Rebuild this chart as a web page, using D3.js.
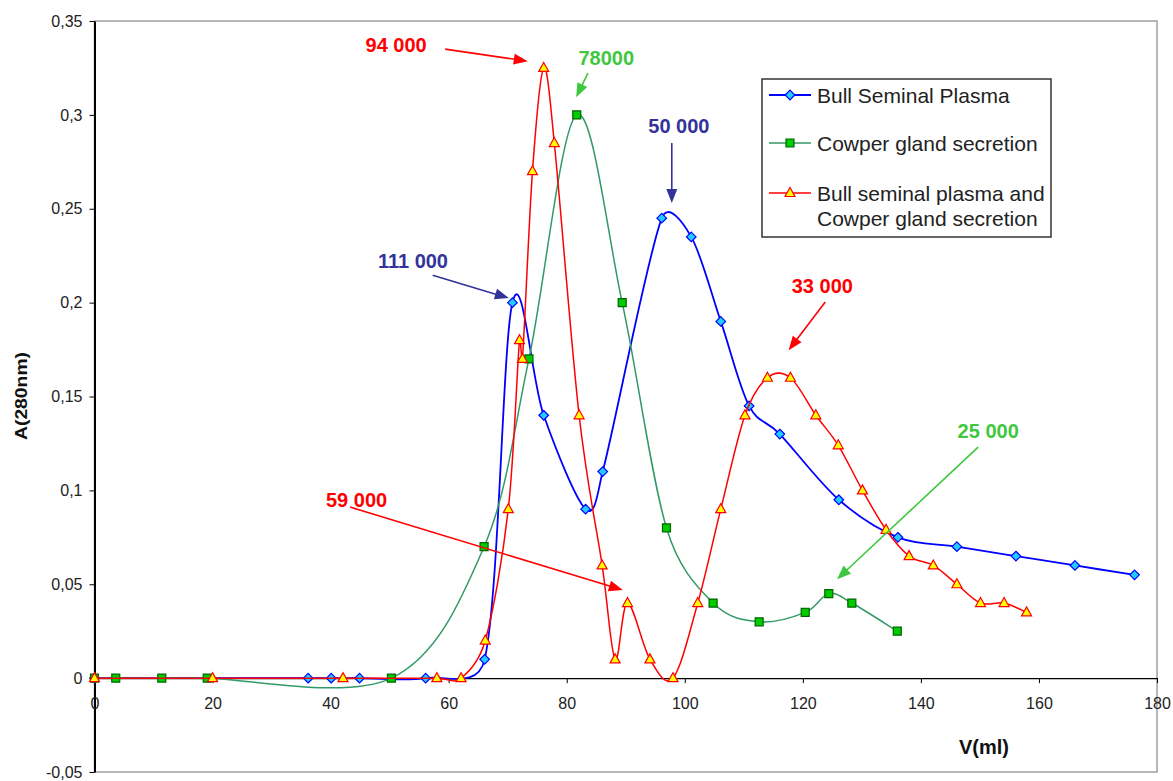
<!DOCTYPE html>
<html>
<head>
<meta charset="utf-8">
<script src="https://cdn.jsdelivr.net/npm/d3@7"></script>
<style>
  body { margin: 0; background: #fff; }
  text { font-family: "Liberation Sans", Arial, sans-serif; }
</style>
</head>
<body>
<div id="chart"></div>
<script>
// Elution profiles, A(280nm) against V(ml)
var bullX = [0, 36.2, 40.1, 44.9, 56.1, 66.1, 70.8, 76.1, 83.2, 86.1, 96.1, 101.1, 106.1, 110.9, 116.1, 126.1, 136.1, 146.1, 156.1, 166.1, 176.2];
var bullY = [0, 0, 0, 0, 0, 0.01, 0.2, 0.14, 0.09, 0.11, 0.245, 0.235, 0.19, 0.145, 0.13, 0.095, 0.075, 0.07, 0.065, 0.06, 0.055];

var cowperX = [0, 3.6, 11.4, 19.1, 50.3, 66, 73.6, 81.7, 89.4, 96.9, 104.8, 112.6, 120.4, 124.4, 128.3, 136];
var cowperY = [0, 0, 0, 0, 0, 0.07, 0.17, 0.3, 0.2, 0.08, 0.04, 0.03, 0.035, 0.045, 0.04, 0.025];

var mixX = [0, 20, 42.1, 58, 62.1, 66.2, 70.1, 72, 72.5, 74.2, 76.1, 77.9, 82.1, 86, 88.2, 90.3, 94.1, 98, 102.2, 106.1, 110.2, 114, 117.9, 122.2, 126, 130.1, 134.1, 138, 142.1, 146.1, 150.1, 154.1, 157.9];
var mixY = [0, 0, 0, 0, 0, 0.02, 0.09, 0.18, 0.17, 0.27, 0.325, 0.285, 0.14, 0.06, 0.01, 0.04, 0.01, 0, 0.04, 0.09, 0.14, 0.16, 0.16, 0.14, 0.124, 0.1, 0.079, 0.065, 0.06, 0.05, 0.04, 0.04, 0.035];

var seriesNames = ["Bull Seminal Plasma", "Cowper gland secretion", "Bull seminal plasma and\nCowper gland secretion"];

var yTicks = [-0.05, 0, 0.05, 0.1, 0.15, 0.2, 0.25, 0.3, 0.35];
var xTicks = [0, 20, 40, 60, 80, 100, 120, 140, 160, 180];

// molecular weight labels: text, text anchor, arrow start, arrow tip (data units)
var notes = [
  {t: "94 000",  c: "red",   at: [51.1, 0.3334],  from: [59.4, 0.3350],  to: [73.4, 0.3286]},
  {t: "78000",   c: "green", at: [86.7, 0.3265],  from: [83.6, 0.3222],  to: [81.6, 0.3094]},
  {t: "50 000",  c: "blue",  at: [99.0, 0.2903],  from: [97.8, 0.2850],  to: [97.8, 0.2530]},
  {t: "111 000", c: "blue",  at: [53.95, 0.2184], from: [57.3, 0.2146],  to: [70.2, 0.2024]},
  {t: "33 000",  c: "red",   at: [123.3, 0.2051], from: [123.8, 0.2003], to: [117.6, 0.1747]},
  {t: "25 000",  c: "green", at: [151.4, 0.1278], from: [149.7, 0.1230], to: [125.8, 0.0527]},
  {t: "59 000",  c: "red",   at: [44.4, 0.0911],  from: [43.3, 0.0911],  to: [89.5, 0.0469]}
];
var noteColor = {red: "#ff0000", green: "#3fc83f", blue: "#333399"};

var W = 1173, H = 781;
var svg = d3.select("#chart").append("svg")
  .attr("width", W).attr("height", H);
svg.append("rect").attr("width", W).attr("height", H).attr("fill", "#fff");

var x = d3.scaleLinear().domain([0, 180]).range([94.5, 1157]);
var y = d3.scaleLinear().domain([-0.05, 0.35]).range([772, 21]);

// plot area frame
svg.append("rect")
  .attr("x", x(0)).attr("y", y(0.35))
  .attr("width", x(180) - x(0)).attr("height", y(-0.05) - y(0.35))
  .attr("fill", "none").attr("stroke", "#a0a0a0").attr("stroke-width", 1.5);

var fmt = function(d){ return d3.format(".2~f")(d).replace("−", "-").replace(".", ","); };

var yAxis = svg.append("g")
  .attr("transform", "translate(" + x(0) + ",0)")
  .call(d3.axisLeft(y).tickValues(yTicks).tickSize(5).tickSizeOuter(0).tickPadding(7).tickFormat(fmt));
yAxis.select(".domain").attr("stroke", "#000").attr("stroke-width", 2);
yAxis.selectAll("line").attr("stroke", "#000");
yAxis.selectAll("text").attr("font-size", 16).attr("fill", "#222")
  .style("font-family", "'Liberation Sans', Arial, sans-serif");

var xAxis = svg.append("g")
  .attr("transform", "translate(0," + y(0) + ")")
  .call(d3.axisBottom(x).tickValues(xTicks).tickSize(5).tickSizeOuter(0).tickPadding(15));
xAxis.select(".domain").attr("stroke", "#000").attr("stroke-width", 1.3);
xAxis.selectAll("line").attr("stroke", "#000");
xAxis.selectAll("text").attr("font-size", 16).attr("fill", "#222")
  .style("font-family", "'Liberation Sans', Arial, sans-serif");

// axis titles
svg.append("text")
  .attr("transform", "translate(27,396) rotate(-90)")
  .attr("text-anchor", "middle")
  .attr("font-size", 17).attr("font-weight", "bold").attr("fill", "#111")
  .attr("textLength", 88).attr("lengthAdjust", "spacingAndGlyphs")
  .text("A(280nm)");
svg.append("text")
  .attr("x", 984).attr("y", 754)
  .attr("text-anchor", "middle")
  .attr("font-size", 20).attr("font-weight", "bold").attr("fill", "#111")
  .text("V(ml)");

// spreadsheet-style smoothing: bezier arms 1/6 of the neighbour chord,
// clipped so an arm never exceeds half of its segment
var smooth = function(p){
  var d = "M" + p[0][0] + "," + p[0][1];
  var dist = function(a, b){ return Math.hypot(b[0] - a[0], b[1] - a[1]); };
  for (var i = 0; i < p.length - 1; i++){
    var p0 = p[Math.max(i - 1, 0)], p1 = p[i], p2 = p[i + 1], p3 = p[Math.min(i + 2, p.length - 1)];
    var d12 = dist(p1, p2), d02 = dist(p0, p2), d13 = dist(p1, p3);
    var f0 = 1/6, f1 = 1/6;
    if (d02 / 6 > d12 / 2) f0 = d12 / 2 / d02;
    if (d13 / 6 > d12 / 2) f1 = d12 / 2 / d13;
    var c1 = [p1[0] + (p2[0] - p0[0]) * f0, p1[1] + (p2[1] - p0[1]) * f0];
    var c2 = [p2[0] - (p3[0] - p1[0]) * f1, p2[1] - (p3[1] - p1[1]) * f1];
    d += "C" + c1 + " " + c2 + " " + p2;
  }
  return d;
};

var series = [
  {xs: bullX, ys: bullY, stroke: "#0000ff", width: 1.8, shape: "diamond", fill: "#22ccff", mstroke: "#0000ff"},
  {xs: cowperX, ys: cowperY, stroke: "#339966", width: 1.5, shape: "square", fill: "#00cc00", mstroke: "#006400"},
  {xs: mixX, ys: mixY, stroke: "#ff0000", width: 1.5, shape: "triangle", fill: "#ffff00", mstroke: "#ff0000"}
];

var markerPath = function(shape){
  if (shape === "diamond") return "M0,-4.8L4.8,0L0,4.8L-4.8,0Z";
  if (shape === "square") return "M-4,-4H4V4H-4Z";
  return "M0,-5.5L5,3.5H-5Z";
};

series.forEach(function(s){
  var pts = s.xs.map(function(v, i){ return [v, s.ys[i]]; });
  svg.append("path")
    .attr("d", smooth(pts.map(function(d){ return [x(d[0]), y(d[1])]; })))
    .attr("fill", "none")
    .attr("stroke", s.stroke)
    .attr("stroke-width", s.width);
  svg.append("g").selectAll("path")
    .data(pts)
    .enter().append("path")
    .attr("transform", function(d){ return "translate(" + x(d[0]) + "," + y(d[1]) + ")"; })
    .attr("d", markerPath(s.shape))
    .attr("fill", s.fill)
    .attr("stroke", s.mstroke)
    .attr("stroke-width", 1.2);
});

// legend
var lg = svg.append("g");
lg.append("rect")
  .attr("x", 762).attr("y", 79).attr("width", 289).attr("height", 158)
  .attr("fill", "#fff").attr("stroke", "#333").attr("stroke-width", 1.5);
var rowY = [95, 143, 193];
series.forEach(function(s, i){
  lg.append("line")
    .attr("x1", 769).attr("x2", 811).attr("y1", rowY[i]).attr("y2", rowY[i])
    .attr("stroke", s.stroke).attr("stroke-width", s.width);
  lg.append("path")
    .attr("transform", "translate(790," + rowY[i] + ")")
    .attr("d", markerPath(s.shape))
    .attr("fill", s.fill).attr("stroke", s.mstroke).attr("stroke-width", 1.2);
  var t = lg.append("text")
    .attr("x", 817).attr("y", rowY[i] + 7.5)
    .attr("font-size", 21).attr("fill", "#222");
  seriesNames[i].split("\n").forEach(function(part, k){
    t.append("tspan").attr("x", 817).attr("dy", k ? 25 : 0).text(part);
  });
});

// annotations with arrows
var ag = svg.append("g");
notes.forEach(function(n){
  var col = noteColor[n.c];
  var x1 = x(n.from[0]), y1 = y(n.from[1]), x2 = x(n.to[0]), y2 = y(n.to[1]);
  var dx = x2 - x1, dy = y2 - y1, len = Math.sqrt(dx*dx + dy*dy);
  var ux = dx/len, uy = dy/len, L = 14, hw = 5.5;
  ag.append("line")
    .attr("x1", x1).attr("y1", y1)
    .attr("x2", x2 - ux*L*0.8).attr("y2", y2 - uy*L*0.8)
    .attr("stroke", col).attr("stroke-width", 1.6);
  var bx = x2 - ux*L, by = y2 - uy*L;
  ag.append("path")
    .attr("d", "M" + x2 + "," + y2 + "L" + (bx - uy*hw) + "," + (by + ux*hw) + "L" + (bx + uy*hw) + "," + (by - ux*hw) + "Z")
    .attr("fill", col);
  ag.append("text")
    .attr("x", x(n.at[0])).attr("y", y(n.at[1]))
    .attr("text-anchor", "middle")
    .attr("font-size", 20).attr("font-weight", "bold")
    .attr("fill", col)
    .text(n.t);
});
</script>
</body>
</html>
